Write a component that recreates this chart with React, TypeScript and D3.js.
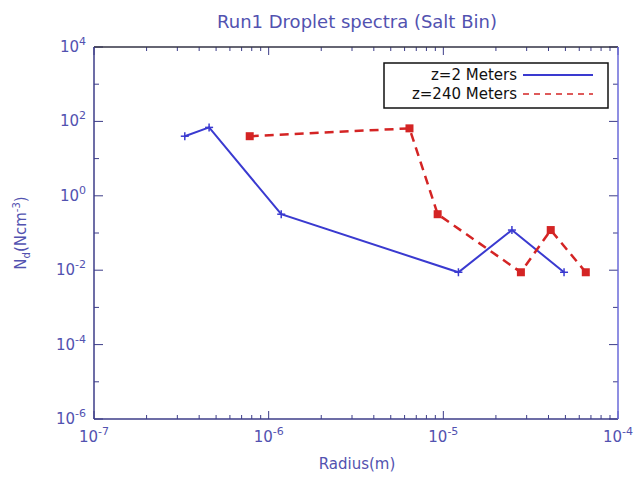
import React from 'react';
import * as d3 from 'd3';

const title = 'Run1 Droplet spectra (Salt Bin)';
const seriesNames = ['z=2 Meters', 'z=240 Meters'];

// z=2 Meters
const radiusZ2 = [3.31e-7, 4.56e-7, 1.18e-6, 1.22e-5, 2.47e-5, 4.91e-5];
const ndZ2 = [40, 69, 0.32, 0.0088, 0.12, 0.0088];

// z=240 Meters
const radiusZ240 = [7.79e-7, 6.4e-6, 9.28e-6, 2.78e-5, 4.12e-5, 6.54e-5];
const ndZ240 = [40, 65, 0.32, 0.0088, 0.12, 0.0088];

const xDecades = [-7, -6, -5, -4];
const yDecades = [4, 2, 0, -2, -4, -6];

const W = 643;
const H = 481;
const margin = { left: 94, right: 25, top: 47, bottom: 62 };
const blue = '#3a3ad0';
const red = '#d42424';
const labelColor = '#5252b0';
const frameColor = '#3c3c88';
const font = '"DejaVu Sans", Verdana, sans-serif';

function Pow({ x, y, exp, anchor }: { x: number; y: number; exp: number; anchor: string }) {
  return (
    <text x={x} y={y} textAnchor={anchor} fill={labelColor} fontSize={15} fontFamily={font}>
      10<tspan dy={-7} fontSize={11}>{exp}</tspan>
    </text>
  );
}

export default function App() {
  const x = d3.scaleLog().domain([1e-7, 1e-4]).range([margin.left, W - margin.right]);
  const y = d3.scaleLog().domain([1e-6, 1e4]).range([H - margin.bottom, margin.top]);
  const [x0, x1] = x.range();
  const [y0, y1] = y.range();

  const line = d3.line<[number, number]>().x(d => x(d[0])).y(d => y(d[1]));
  const z2 = radiusZ2.map((r, i) => [r, ndZ2[i]] as [number, number]);
  const z240 = radiusZ240.map((r, i) => [r, ndZ240[i]] as [number, number]);

  // x ticks: 1..9 per decade
  const xTicks: { v: number; major: boolean }[] = [];
  for (let e = -7; e < -4; e++) {
    for (let m = 1; m <= 9; m++) xTicks.push({ v: m * Math.pow(10, e), major: m === 1 });
  }
  xTicks.push({ v: 1e-4, major: true });
  const yTicks: { v: number; major: boolean }[] = [];
  for (let e = -6; e <= 4; e++) yTicks.push({ v: Math.pow(10, e), major: e % 2 === 0 });

  const legX = 384, legY = 63, legW = 224, legH = 45;

  return (
    <svg width={W} height={H} style={{ position: 'absolute', left: 0, top: 0, background: '#fff' }}>
      <text x={357} y={28} textAnchor="middle" fill={labelColor} fontSize={18} fontFamily={font}>{title}</text>

      {/* ticks */}
      {xTicks.map((t, i) => {
        const px = x(t.v);
        const len = t.major ? 8 : 4;
        return (
          <g key={'xt' + i} stroke={frameColor} strokeWidth={1}>
            <line x1={px} x2={px} y1={y0} y2={y0 - len} />
            <line x1={px} x2={px} y1={y1} y2={y1 + len} />
          </g>
        );
      })}
      {yTicks.map((t, i) => {
        const py = y(t.v);
        const len = t.major ? 9 : 5;
        return (
          <g key={'yt' + i} stroke={frameColor} strokeWidth={1}>
            <line x1={x0} x2={x0 + len} y1={py} y2={py} />
            <line x1={x1} x2={x1 - len} y1={py} y2={py} />
          </g>
        );
      })}

      {/* frame */}
      <line x1={x0} x2={x1} y1={y1} y2={y1} stroke="#333344" strokeWidth={1.5} />
      <line x1={x0} x2={x0} y1={y1} y2={y0} stroke={frameColor} strokeWidth={1.5} />
      <line x1={x0} x2={x1} y1={y0} y2={y0} stroke={frameColor} strokeWidth={1.5} />
      <line x1={x1} x2={x1} y1={y1} y2={y0} stroke="#6a6ad8" strokeWidth={1.5} />

      {/* tick labels */}
      {xDecades.map(e => (
        <Pow key={'xl' + e} x={x(Math.pow(10, e))} y={y0 + 23} exp={e} anchor="middle" />
      ))}
      {yDecades.map(e => (
        <Pow key={'yl' + e} x={x0 - 8} y={y(Math.pow(10, e)) + 5} exp={e} anchor="end" />
      ))}

      <text x={357} y={469} textAnchor="middle" fill={labelColor} fontSize={15} fontFamily={font}>Radius(m)</text>
      <text transform={`translate(26,${(y0 + y1) / 2}) rotate(-90)`} textAnchor="middle" fill={labelColor} fontSize={15} fontFamily={font}>
        N<tspan dy={4} fontSize={10}>d</tspan><tspan dy={-4}>(Ncm</tspan><tspan dy={-6} fontSize={10}>-3</tspan><tspan dy={6}>)</tspan>
      </text>

      {/* series */}
      <path d={line(z2) ?? ''} fill="none" stroke={blue} strokeWidth={2} />
      {z2.map((d, i) => (
        <g key={'p2' + i} stroke={blue} strokeWidth={1.5}>
          <line x1={x(d[0]) - 4} x2={x(d[0]) + 4} y1={y(d[1])} y2={y(d[1])} />
          <line x1={x(d[0])} x2={x(d[0])} y1={y(d[1]) - 4} y2={y(d[1]) + 4} />
        </g>
      ))}
      <path d={line(z240) ?? ''} fill="none" stroke={red} strokeWidth={2.5} strokeDasharray="9,6" />
      {z240.map((d, i) => (
        <rect key={'p240' + i} x={x(d[0]) - 4} y={y(d[1]) - 4} width={8} height={8} fill={red} />
      ))}

      {/* legend */}
      <rect x={legX} y={legY} width={legW} height={legH} fill="#fff" stroke="#111" strokeWidth={1.5} />
      <text x={517} y={80} textAnchor="end" fontSize={15} fontFamily={font} fill="#111">{seriesNames[0]}</text>
      <text x={517} y={99} textAnchor="end" fontSize={15} fontFamily={font} fill="#111">{seriesNames[1]}</text>
      <line x1={523} x2={593} y1={75} y2={75} stroke={blue} strokeWidth={2} />
      <line x1={523} x2={593} y1={94} y2={94} stroke={red} strokeWidth={1.5} strokeDasharray="6,5" />
    </svg>
  );
}
